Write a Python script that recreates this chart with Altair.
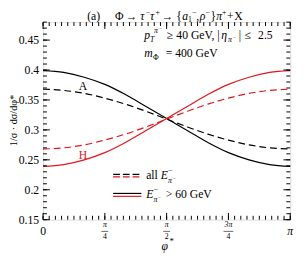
import altair as alt
import pandas as pd
import numpy as np

PI = np.pi
# curve samples at phi = k*pi/12, k = 0..12
phi_k = list(range(13))
A_solid = [0.399, 0.396, 0.388, 0.376, 0.359, 0.339, 0.319, 0.299, 0.279, 0.262, 0.250, 0.242, 0.239]
H_solid = [0.239, 0.242, 0.250, 0.262, 0.279, 0.299, 0.319, 0.339, 0.359, 0.376, 0.388, 0.396, 0.399]
A_dash = [0.368, 0.366, 0.361, 0.353, 0.343, 0.331, 0.318, 0.305, 0.293, 0.283, 0.275, 0.270, 0.268]
H_dash = [0.268, 0.270, 0.275, 0.283, 0.293, 0.305, 0.318, 0.331, 0.343, 0.353, 0.361, 0.366, 0.368]

y_major = [0.15, 0.2, 0.25, 0.3, 0.35, 0.4, 0.45]
y_labels = ["0.15", "0.2", "0.25", "0.3", "0.35", "0.4", "0.45"]
y_minor = [round(0.15 + 0.01 * i, 2) for i in range(34)]
x_major = [0, PI / 4, PI / 2, 3 * PI / 4, PI]
x_minor = [k * PI / 40 for k in range(41)]

W, H = 254, 203
BLACK = "#000000"
RED = "#e3161b"
FONT = "Liberation Serif"

rows = []
for name, vals, col, dash in [("A_s", A_solid, BLACK, "solid"), ("H_s", H_solid, RED, "solid"),
                              ("A_d", A_dash, BLACK, "dash"), ("H_d", H_dash, RED, "dash")]:
    for k, v in zip(phi_k, vals):
        rows.append({"phi": k * PI / 12, "val": v, "series": name, "col": col, "dash": dash})
df = pd.DataFrame(rows)

xs = alt.Scale(domain=[0, PI], nice=False, zero=False)
ys = alt.Scale(domain=[0.15, 0.48], nice=False, zero=False)

solid = alt.Chart(df[df.dash == "solid"]).mark_line(strokeWidth=1.2, interpolate="monotone").encode(
    x=alt.X("phi:Q", scale=xs, axis=None),
    y=alt.Y("val:Q", scale=ys, axis=None),
    detail="series:N",
    color=alt.Color("col:N", scale=None),
)
dashed = alt.Chart(df[df.dash == "dash"]).mark_line(strokeWidth=1.2, strokeDash=[7, 4], interpolate="monotone").encode(
    x=alt.X("phi:Q", scale=xs),
    y=alt.Y("val:Q", scale=ys),
    detail="series:N",
    color=alt.Color("col:N", scale=None),
)

ymaj = pd.DataFrame({"v": y_major, "lab": y_labels})
ymin = pd.DataFrame({"v": y_minor})
xmaj = pd.DataFrame({"v": x_major})
xmin = pd.DataFrame({"v": x_minor})

def yticks(d, L):
    a = alt.Chart(d).mark_rule(color="black", strokeWidth=1).encode(
        y=alt.Y("v:Q", scale=ys), x=alt.value(0), x2=alt.value(L))
    b = alt.Chart(d).mark_rule(color="black", strokeWidth=1).encode(
        y=alt.Y("v:Q", scale=ys), x=alt.value(W - L), x2=alt.value(W))
    return [a, b]

def xticks(d, L):
    a = alt.Chart(d).mark_rule(color="black", strokeWidth=1).encode(
        x=alt.X("v:Q", scale=xs), y=alt.value(H), y2=alt.value(H - L))
    b = alt.Chart(d).mark_rule(color="black", strokeWidth=1).encode(
        x=alt.X("v:Q", scale=xs), y=alt.value(0), y2=alt.value(L))
    return [a, b]

ylab = alt.Chart(ymaj).mark_text(font=FONT, fontSize=12, color="black", align="right", baseline="middle").encode(
    y=alt.Y("v:Q", scale=ys), x=alt.value(-4), text="lab:N")

one = pd.DataFrame({"a": [0]})

def txt(s, x, y, size=12, color="black", italic=False, align="left", baseline="alphabetic", angle=None):
    kw = dict(font=FONT, fontSize=size, color=color, align=align, baseline=baseline)
    if italic:
        kw["fontStyle"] = "italic"
    if angle is not None:
        kw["angle"] = angle
    return alt.Chart(one).mark_text(**kw).encode(x=alt.value(x), y=alt.value(y), text=alt.value(s))

def seg(x1, x2, y, color, dash=None):
    kw = dict(color=color, strokeWidth=1.2)
    if dash:
        kw["strokeDash"] = dash
    return alt.Chart(one).mark_rule(**kw).encode(x=alt.value(x1), x2=alt.value(x2), y=alt.value(y))

# x tick labels
xlab = [
    txt("0", 0, 215, baseline="middle", align="center"),
    txt("π", W, 215, baseline="middle", align="center", italic=True),
]
for xv, num, den in [(PI / 4, "π", "4"), (PI / 2, "π", "2"), (3 * PI / 4, "3π", "4")]:
    px = xv / PI * W
    xlab.append(txt(num, px, 209, size=8, align="center", baseline="middle", italic=True))
    xlab.append(txt(den, px, 220.5, size=8, align="center", baseline="middle"))
    w = 3.5 if num == "π" else 5
    xlab.append(alt.Chart(one).mark_rule(color="black", strokeWidth=0.6).encode(
        x=alt.value(px - w), x2=alt.value(px + w), y=alt.value(215)))

TB = -2      # title baseline
SUP = TB - 5
SUB = TB + 2
title = [
    txt("(a)", 52, TB, align="center"),
    txt("Φ", 74, TB),
    txt("→", 85, TB),
    txt("τ", 100, TB, italic=True),
    txt("−", 105.5, SUP, size=8),
    txt("τ", 110, TB, italic=True),
    txt("+", 115.5, SUP, size=8),
    txt("→", 122, TB),
    txt("{", 137, TB),
    txt("a", 143, TB, italic=True),
    txt("1", 149, SUB, size=8),
    txt("−", 153, SUP, size=8),
    txt(",", 157.5, TB),
    txt("ρ", 161, TB, italic=True),
    txt("−", 167, SUP, size=8),
    txt("}", 172, TB),
    txt("π", 178, TB, italic=True),
    txt("+", 184, SUP, size=8),
    txt("+", 189, TB),
    txt("X", 196.5, TB),
]

texts = [
    txt("p", 104, 17, italic=True),
    txt("T", 110, 20, size=8, italic=True),
    txt("π⁻", 114, 11, size=8, italic=True),
    txt("≥", 127, 17),
    txt("40 GeV, |", 137, 17),
    txt("η", 183, 17, italic=True),
    txt("π⁻", 190, 20, size=8, italic=True),
    txt("|", 201, 17),
    txt("≤", 207, 17),
    txt("2.5", 221, 17),
    txt("m", 104, 36, italic=True),
    txt("Φ", 113, 39, size=8),
    txt("= 400 GeV", 126, 36),
    txt("A", 41, 66, align="center", baseline="middle"),
    txt("H", 41, 137, align="center", baseline="middle", color=RED),
    txt("all", 106, 161),
    txt("E", 121, 161, italic=True),
    txt("−", 128.5, 155, size=8),
    txt("π⁻", 128.5, 165, size=8, italic=True),
    txt("E", 106, 181, italic=True),
    txt("−", 113.5, 175, size=8),
    txt("π⁻", 113.5, 185, size=8, italic=True),
    txt("> 60 GeV", 126, 181),
    txt("φ", 125, 234, italic=True, align="center"),
    txt("*", 130, 228, size=9),
    txt("1/σ · dσ/dφ*", -30, 101, size=10.5, angle=270, align="center", baseline="middle"),
]

legend = [
    seg(72, 101, 156.5, BLACK, [7, 3]),
    seg(72, 101, 159, RED, [7, 3]),
    seg(72, 101, 176, BLACK),
    seg(72, 101, 179, RED),
]

layers = [solid, dashed] + yticks(ymaj, 7) + yticks(ymin, 4) + xticks(xmaj, 7) + xticks(xmin, 4) + [ylab] + xlab + title + texts + legend

chart = alt.layer(*layers).properties(
    width=W, height=H,
    autosize=alt.AutoSizeParams(type="none"),
    padding={"left": 36, "top": 11, "right": 9, "bottom": 42},
).configure_view(stroke="black", strokeWidth=1).configure(background="white")

chart.save("out.html", embed_options={"renderer": "svg", "actions": False})
